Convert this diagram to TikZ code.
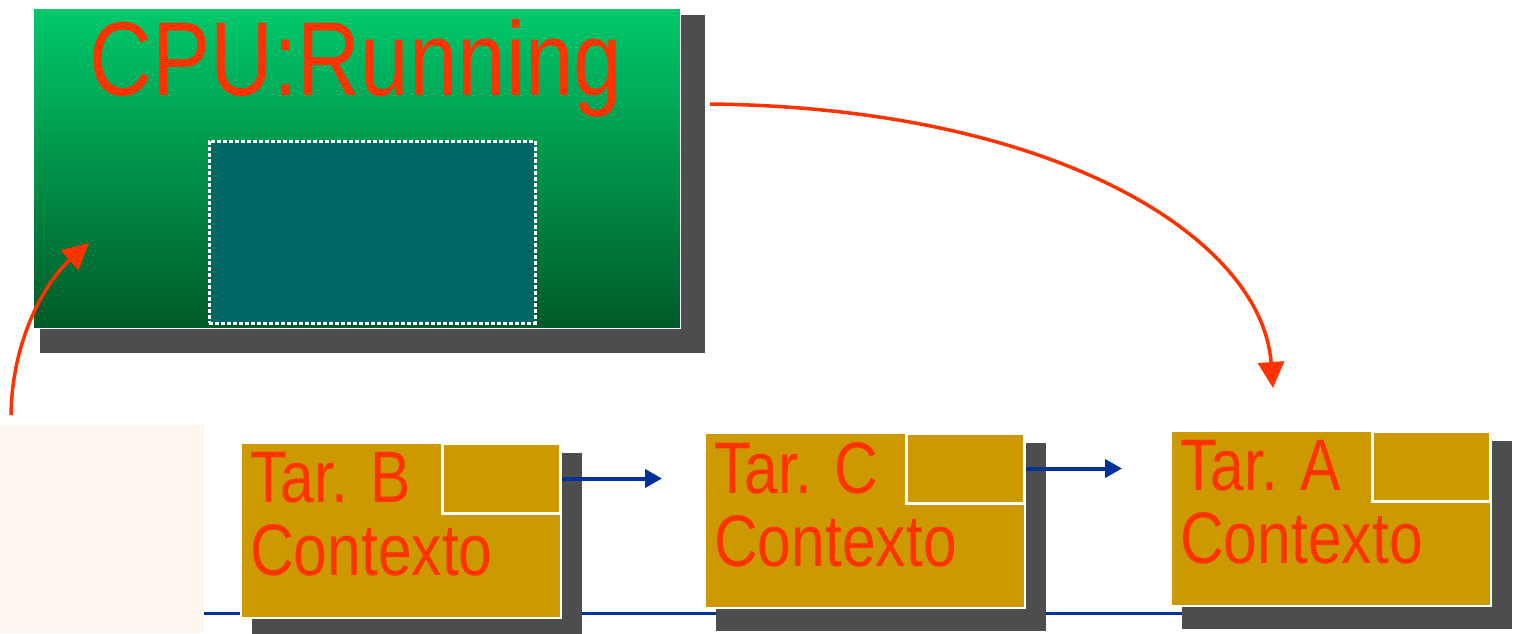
\documentclass[tikz,border=0pt]{standalone}
\usepackage{fontspec}
\usepackage{tikz}
\usetikzlibrary{arrows.meta,positioning,backgrounds}
\newfontfamily\arialn[FakeStretch=0.83]{Liberation Sans}
\definecolor{CpuTop}{HTML}{00C96B}
\definecolor{CpuMid}{HTML}{00A355}
\definecolor{CpuBottom}{HTML}{005A28}
\definecolor{RegTeal}{HTML}{006666}
\definecolor{Ocre}{HTML}{CC9900}
\definecolor{Sombra}{HTML}{4D4D4D}
\definecolor{Rojo}{HTML}{FF3300}
\definecolor{Azul}{HTML}{003399}
\definecolor{Crema}{HTML}{FFF5EF}

\begin{document}
\begin{tikzpicture}[x=1pt,y=-1pt,>=Latex]
  \tikzset{cpu/.style={draw=white,line width=1pt,top color=CpuTop,middle color=CpuMid,bottom color=CpuBottom,minimum width=647pt,minimum height=320pt,inner sep=0pt,anchor=north west},
           reg/.style={draw=white,line width=2.5pt,dash pattern=on 4pt off 2pt,fill=RegTeal,minimum width=326pt,minimum height=182pt,inner sep=0pt,anchor=north west},
           cpulbl/.style={font=\arialn\fontsize{105}{105}\selectfont,text=Rojo,inner sep=0pt,anchor=base},
           tarea/.style={draw=white,line width=2pt,fill=Ocre,minimum width=320pt,minimum height=175pt,inner sep=0pt,anchor=north west},
           ctx/.style={draw=white,line width=3pt,fill=Ocre,minimum width=118pt,minimum height=70pt,inner sep=0pt,anchor=north east},
           tartxt/.style={font=\arialn\fontsize{73}{73}\selectfont,text=Rojo,align=left,inner sep=0pt,anchor=north west},
           sombra/.style={fill=Sombra},
           cambio/.style={-{Triangle[length=26pt,width=26pt]},line width=3.5pt,Rojo},
           cola/.style={-{Triangle[length=17pt,width=18pt]},line width=4pt,Azul}}
  \useasboundingbox (0,0) rectangle (1517,633);
  % procesador
  \node[cpu] (cpu) at (33,8) {};
  \node[reg] (reg) at (208,140) {};
  \node[cpulbl] (cputxt) at (356,95) {CPU:Running};
  % cola de tareas
  \node[tarea] (tb) at (240,442) {};
  \node[tarea] (tc) at (704,432) {};
  \node[tarea] (ta) at (1170,430) {};
  \foreach \t in {tb,tc,ta}{\node[ctx] (\t-ctx) at (\t.north east) {};}
  \node[tartxt] (tb-txt) at ([xshift=10pt,yshift=-10pt]tb.north west) {Tar. B\\Contexto};
  \node[tartxt] (tc-txt) at ([xshift=10pt,yshift=-10pt]tc.north west) {Tar. C\\Contexto};
  \node[tartxt] (ta-txt) at ([xshift=10pt,yshift=-10pt]ta.north west) {Tar. A\\Contexto};
  \draw[cola] (tb-ctx.east) -- ([xshift=-42pt]tc.west |- tb-ctx.east);
  \draw[cola] (tc-ctx.east) -- ([xshift=-48pt]ta.west |- tc-ctx.east);
  % cambio de contexto
  \coordinate (salida) at (710,104);
  \coordinate (llegada) at (1273,388);
  \coordinate (inicio) at (11,415);
  \coordinate (entrada) at (89,243);
  \draw[cambio] (salida) .. controls (1060,108) and (1262,240) .. (llegada);
  \draw[cambio] (inicio) .. controls (12,340) and (45,282) .. (entrada);
  \begin{scope}[on background layer]
    \fill[Crema] (0,425) rectangle (204,633);
    \draw[Azul,line width=3pt] (204,613) -- (1190,613);
    \fill[sombra] ([xshift=7pt,yshift=-7pt]cpu.north west) rectangle ([xshift=24pt,yshift=-24pt]cpu.south east);
    \foreach \t in {tb,tc,ta}{\fill[sombra] ([xshift=12pt,yshift=-11pt]\t.north west) rectangle ([xshift=20pt,yshift=-22pt]\t.south east);}
  \end{scope}
\end{tikzpicture}
\end{document}
